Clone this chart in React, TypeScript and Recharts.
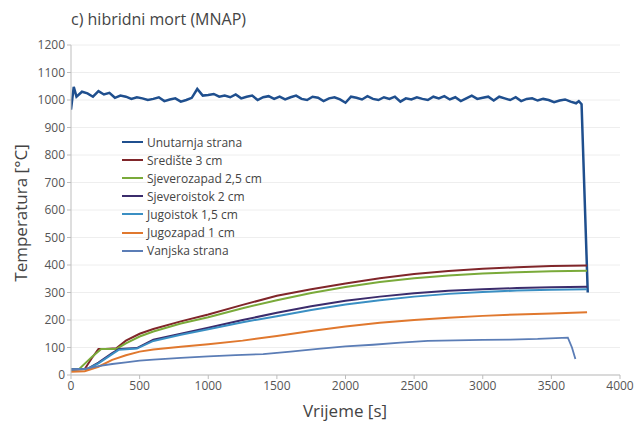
import React from 'react';
import { LineChart, Line, XAxis, YAxis, CartesianGrid } from 'recharts';

// time [s] / temperature [°C]
const unutarnjaT = [
  0, 20, 40, 80, 120, 160, 200, 240, 280, 320, 360, 400, 440, 480, 520, 560, 600, 640, 680, 720,
  760, 800, 840, 880, 920, 960, 1000, 1040, 1080, 1120, 1160, 1200, 1240, 1280, 1320, 1360, 1400,
  1440, 1480, 1520, 1560, 1600, 1640, 1680, 1720, 1760, 1800, 1840, 1880, 1920, 1960, 2000, 2040,
  2080, 2120, 2160, 2200, 2240, 2280, 2320, 2360, 2400, 2440, 2480, 2520, 2560, 2600, 2640, 2680,
  2720, 2760, 2800, 2840, 2880, 2920, 2960, 3000, 3040, 3080, 3120, 3160, 3200, 3240, 3280, 3320,
  3360, 3400, 3440, 3480, 3520, 3560, 3600, 3640, 3680, 3700, 3720, 3765,
];
const unutarnjaV = [
  965, 1048, 1012, 1030, 1024, 1012, 1032, 1020, 1026, 1008, 1016, 1012, 1004, 1010, 1006, 1000, 1004,
  1010, 996, 1002, 1006, 994, 1000, 1008, 1040, 1016, 1018, 1022, 1012, 1016, 1010, 1020, 1006, 1012,
  1016, 1000, 1010, 1014, 1004, 1012, 1002, 1010, 1016, 1004, 1000, 1012, 1008, 996, 1006, 1010, 1002,
  990, 1012, 1008, 1002, 1014, 1004, 1000, 1010, 1004, 1012, 994, 1006, 1002, 1010, 1004, 1000, 1012,
  1006, 1014, 1002, 1010, 996, 1006, 1016, 1004, 1008, 1012, 998, 1012, 1006, 1000, 1010, 996, 1004,
  1006, 998, 1004, 1000, 992, 998, 1002, 994, 988, 996, 985, 300,
];

const sredisteT = [0, 100, 150, 200, 250, 330, 400, 500, 600, 800, 1000, 1250, 1500, 1750, 2000, 2250, 2500, 2750, 3000, 3250, 3500, 3760];
const sredisteV = [20, 22, 60, 95, 95, 97, 125, 150, 167, 195, 220, 255, 288, 312, 333, 352, 367, 378, 386, 392, 396, 398];

const sjeverozapadT = [0, 60, 150, 220, 330, 400, 500, 600, 800, 1000, 1250, 1500, 1750, 2000, 2250, 2500, 2750, 3000, 3250, 3500, 3760];
const sjeverozapadV = [20, 22, 65, 95, 95, 115, 140, 158, 187, 210, 243, 272, 298, 320, 338, 352, 362, 369, 374, 377, 379];

const sjeveroistokT = [0, 120, 200, 300, 350, 480, 600, 800, 1000, 1250, 1500, 1750, 2000, 2250, 2500, 2750, 3000, 3250, 3500, 3760];
const sjeveroistokV = [20, 22, 45, 80, 95, 98, 128, 150, 172, 200, 226, 250, 270, 285, 297, 306, 312, 316, 319, 321];

const jugoistokT = [0, 120, 200, 300, 350, 480, 600, 800, 1000, 1250, 1500, 1750, 2000, 2250, 2500, 2750, 3000, 3250, 3500, 3760];
const jugoistokV = [20, 22, 42, 76, 92, 96, 124, 146, 166, 192, 214, 236, 256, 272, 285, 295, 302, 307, 310, 312];

const jugozapadT = [0, 100, 200, 300, 400, 500, 600, 800, 1000, 1250, 1500, 1750, 2000, 2250, 2500, 2750, 3000, 3250, 3500, 3760];
const jugozapadV = [12, 14, 30, 55, 72, 85, 93, 103, 112, 125, 142, 160, 176, 190, 200, 208, 215, 220, 224, 228];

const vanjskaT = [0, 100, 200, 300, 400, 500, 600, 800, 1000, 1200, 1400, 1600, 1800, 2000, 2200, 2400, 2600, 2800, 3000, 3200, 3400, 3620, 3650, 3675];
const vanjskaV = [20, 22, 32, 40, 46, 52, 56, 62, 68, 72, 76, 85, 95, 104, 110, 118, 124, 126, 128, 129, 131, 136, 100, 58];

const xTicks = [0, 500, 1000, 1500, 2000, 2500, 3000, 3500, 4000];
const yTicks = [0, 100, 200, 300, 400, 500, 600, 700, 800, 900, 1000, 1100, 1200];

const toPoints = (t: number[], v: number[]) => t.map((x, i) => ({ t: x, v: v[i] }));

const series = [
  { name: 'Unutarnja strana', color: '#1f4f8e', width: 2.5, data: toPoints(unutarnjaT, unutarnjaV) },
  { name: 'Središte 3 cm', color: '#80262a', width: 2, data: toPoints(sredisteT, sredisteV) },
  { name: 'Sjeverozapad 2,5 cm', color: '#7aaa3a', width: 2, data: toPoints(sjeverozapadT, sjeverozapadV) },
  { name: 'Sjeveroistok 2 cm', color: '#3b2c6c', width: 2, data: toPoints(sjeveroistokT, sjeveroistokV) },
  { name: 'Jugoistok 1,5 cm', color: '#3a8fc3', width: 2, data: toPoints(jugoistokT, jugoistokV) },
  { name: 'Jugozapad 1 cm', color: '#e0782e', width: 2, data: toPoints(jugozapadT, jugozapadV) },
  { name: 'Vanjska strana', color: '#5b7db6', width: 1.8, data: toPoints(vanjskaT, vanjskaV) },
];

const FONT = '"Open Sans", sans-serif';

export default function App() {
  return (
    <div style={{ position: 'absolute', left: 0, top: 0, width: 636, height: 422, background: '#fff', fontFamily: FONT }}>
      <LineChart width={636} height={422} margin={{ top: 45, right: 16, bottom: 17, left: 26 }}>
        <CartesianGrid vertical={false} stroke="#eeeeee" />
        <XAxis
          type="number"
          dataKey="t"
          domain={[0, 4000]}
          ticks={xTicks}
          allowDataOverflow
          stroke="#bdbdbd"
          tickSize={4}
          tick={{ fill: '#555', fontSize: 12, fontFamily: FONT }}
          height={30}
        />
        <YAxis
          type="number"
          dataKey="v"
          domain={[0, 1200]}
          ticks={yTicks}
          stroke="#bdbdbd"
          tickSize={4}
          width={45}
          tick={{ fill: '#555', fontSize: 12, fontFamily: FONT }}
        />
        {series.map((s) => (
          <Line
            key={s.name}
            data={s.data}
            dataKey="v"
            name={s.name}
            type="linear"
            stroke={s.color}
            strokeWidth={s.width}
            dot={false}
            isAnimationActive={false}
          />
        ))}
      </LineChart>
      <div style={{ position: 'absolute', left: 71, top: 8, fontSize: 16, color: '#444' }}>c) hibridni mort (MNAP)</div>
      <div
        style={{
          position: 'absolute',
          left: 20,
          top: 213,
          fontSize: 17,
          color: '#444',
          whiteSpace: 'nowrap',
          transform: 'translate(-50%, -50%) rotate(-90deg)',
        }}
      >
        Temperatura [°C]
      </div>
      <div style={{ position: 'absolute', left: 345, top: 410, fontSize: 17, color: '#444', transform: 'translate(-50%, -50%)' }}>
        Vrijeme [s]
      </div>
      <div style={{ position: 'absolute', left: 122, top: 133, fontSize: 12, color: '#444' }}>
        {series.map((s) => (
          <div key={s.name} style={{ display: 'flex', alignItems: 'center', height: 18.1 }}>
            <span style={{ display: 'inline-block', width: 21, height: 2, background: s.color, marginRight: 4 }} />
            <span>{s.name}</span>
          </div>
        ))}
      </div>
    </div>
  );
}
